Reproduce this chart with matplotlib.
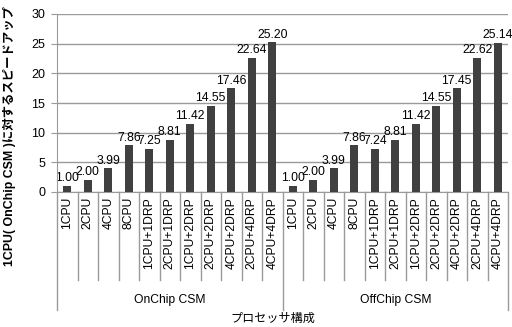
import matplotlib
matplotlib.use("Agg")
import matplotlib.pyplot as plt
import numpy as np

configs = ["1CPU", "2CPU", "4CPU", "8CPU", "1CPU+1DRP", "2CPU+1DRP", "1CPU+2DRP",
           "2CPU+2DRP", "4CPU+2DRP", "2CPU+4DRP", "4CPU+4DRP"]
groups = ["OnChip CSM", "OffChip CSM"]
onchip = [1.00, 2.00, 3.99, 7.86, 7.25, 8.81, 11.42, 14.55, 17.46, 22.64, 25.20]
offchip = [1.00, 2.00, 3.99, 7.86, 7.24, 8.81, 11.42, 14.55, 17.45, 22.62, 25.14]
yticks = [0, 5, 10, 15, 20, 25, 30]

plt.rcParams['font.family'] = ['Liberation Sans', 'Noto Sans CJK JP']

W, H = 512, 327
fig = plt.figure(figsize=(W / 100, H / 100), dpi=100)
L, R, T, B = 57, 508, 14, 192
ax = fig.add_axes([L / W, 1 - B / H, (R - L) / W, (B - T) / H])

values = onchip + offchip
labels = configs + configs
x = np.arange(len(values))
gray = "#9a9a9a"
ax.bar(x, values, width=0.4, color="#404040", zorder=3)
for xi, v in zip(x, values):
    ax.text(xi, v + 0.3, f"{v:.2f}", ha="center", va="bottom", fontsize=8.7, zorder=4)

ax.set_xlim(-0.5, len(values) - 0.5)
ax.set_ylim(0, 30)
ax.set_yticks(yticks)
ax.yaxis.grid(True, color=gray, linewidth=1.0, zorder=0)
ax.tick_params(axis="y", length=4, color=gray, labelsize=9, pad=4.5)
ax.set_xticks([])
for s in ["top", "right"]:
    ax.spines[s].set_visible(False)
ax.spines["left"].set_color(gray)
ax.spines["bottom"].set_color(gray)
ax.spines["left"].set_zorder(4)

trans = ax.get_xaxis_transform()
ah = B - T
sep_low = -(280 - B) / ah
grp_low = -(310 - B) / ah
n = len(configs)
for i in range(len(values) + 1):
    b = i - 0.5
    low = grp_low if i % n == 0 else sep_low
    ax.plot([b, b], [0, low], color=gray, lw=1.0, transform=trans, clip_on=False)
for xi, lab in zip(x, labels):
    ax.text(xi, -5 / ah, lab, rotation=90, ha="center", va="top", fontsize=8.7,
            transform=trans)
for gi, g in enumerate(groups):
    c = gi * n + (n - 1) / 2
    ax.text(c, -(300 - B) / ah, g, ha="center", va="center", fontsize=8.7, transform=trans)

fig.text(273 / W, 1 - 319 / H, "プロセッサ構成", ha="center", va="center", fontsize=8.7)
fig.text(10 / W, 1 - 136 / H, "1CPU( OnChip CSM )に対するスピードアップ", rotation=90,
         ha="center", va="center", fontsize=8.9, fontweight="bold")

fig.savefig("out.png", dpi=100)
